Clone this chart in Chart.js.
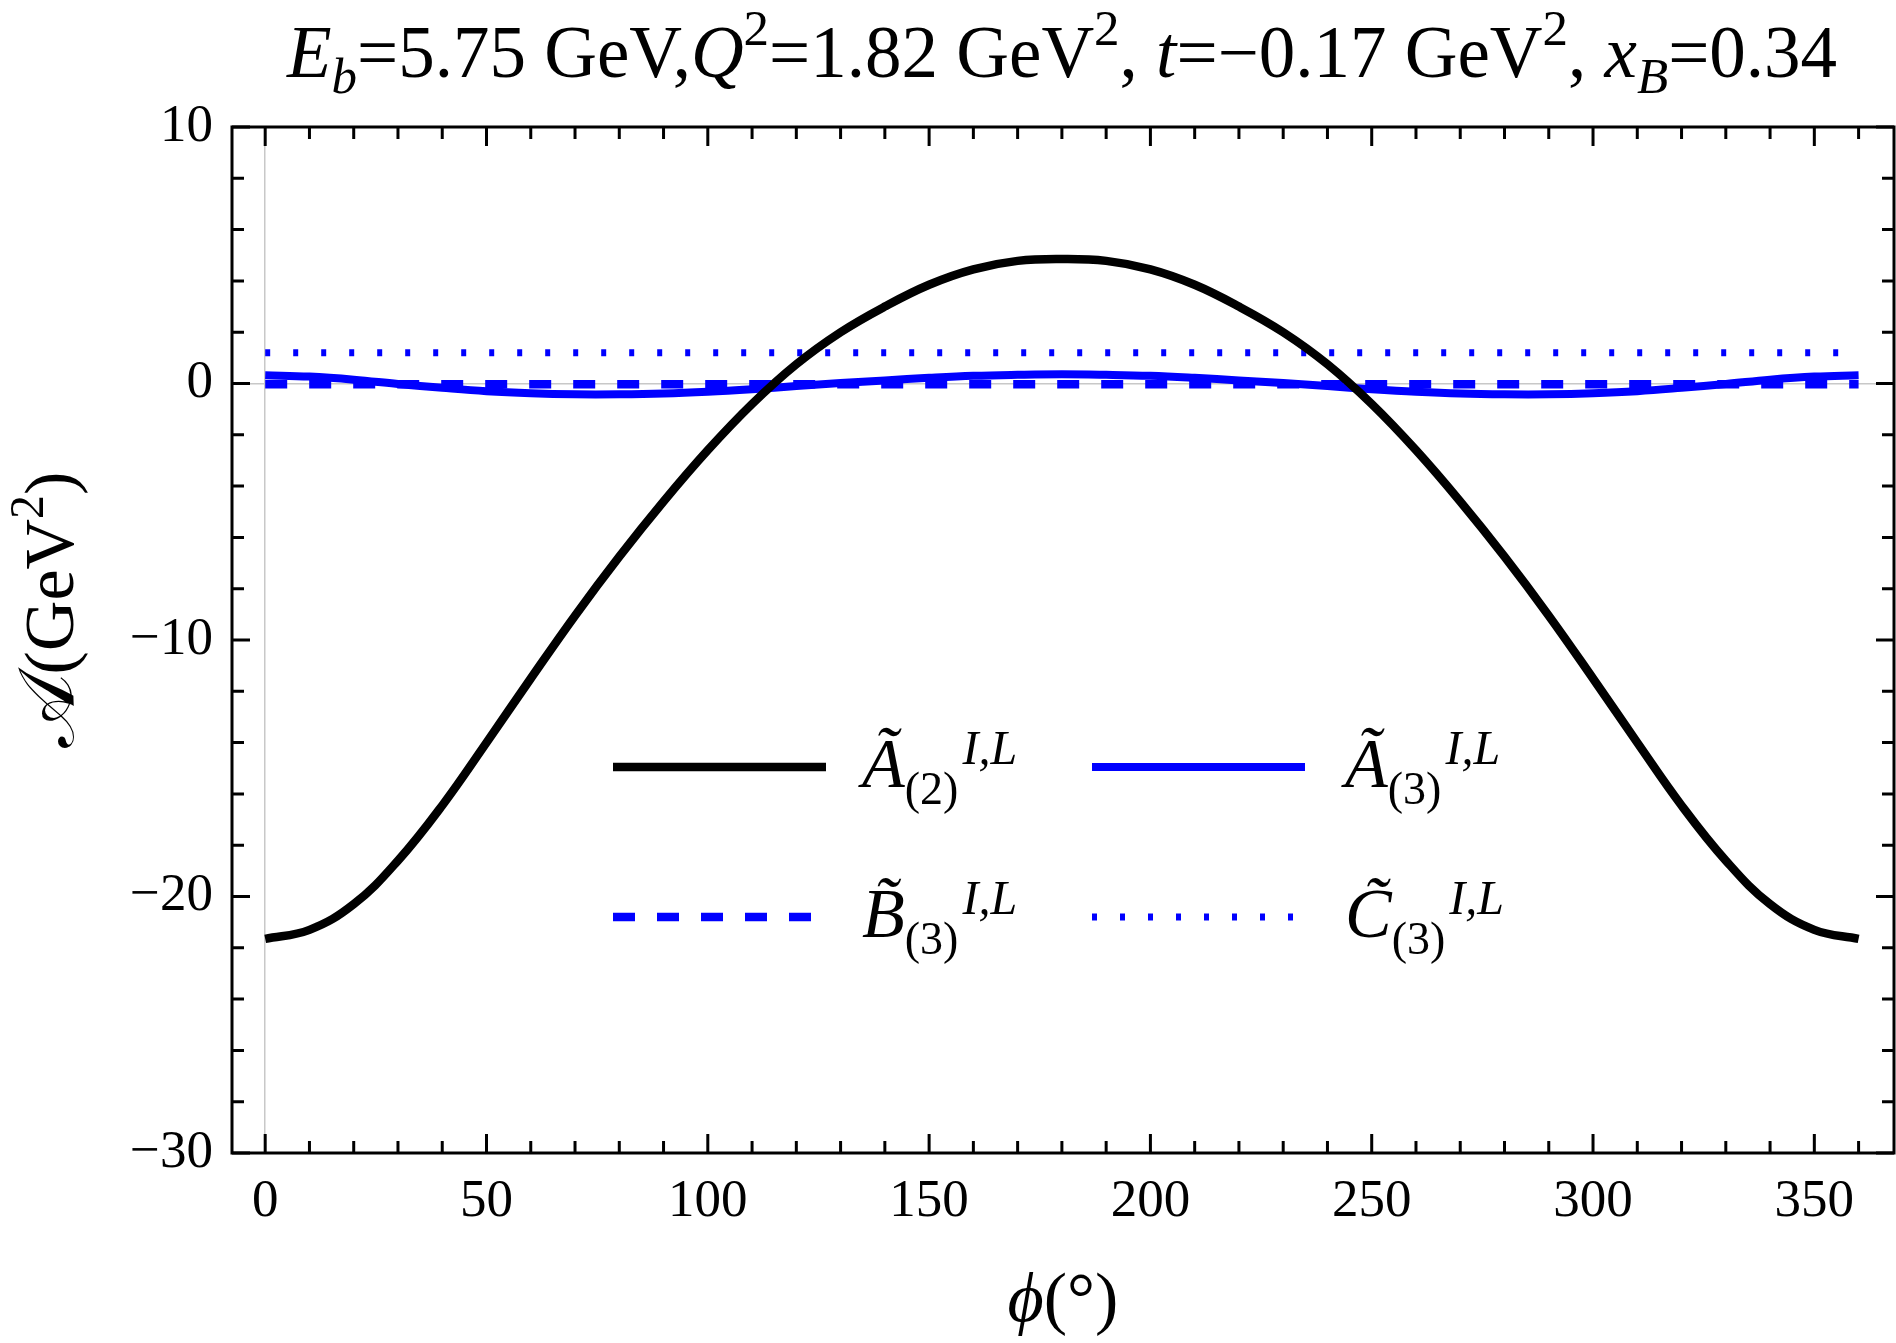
<!DOCTYPE html>
<html>
<head>
<meta charset="utf-8">
<script src="https://cdn.jsdelivr.net/npm/chart.js@4.4.1/dist/chart.umd.min.js"></script>
<style>
  html, body { margin: 0; padding: 0; background: #fff; }
  #wrap { width: 1896px; height: 1343px; }
</style>
</head>
<body>
<div id="wrap"><canvas id="plot"></canvas></div>
<script>
// phi in degrees, values in GeV^2
const phi = [0, 10, 20, 30, 40, 50, 60, 70, 80, 90, 100, 110, 120, 130, 140, 150, 160, 170, 180,
             190, 200, 210, 220, 230, 240, 250, 260, 270, 280, 290, 300, 310, 320, 330, 340, 350, 360];
const a2 = [-21.65, -21.3, -20.3, -18.6, -16.45, -14.0, -11.5, -9.05, -6.75, -4.6, -2.6, -0.8, 0.75, 2.0, 3.0, 3.85, 4.45, 4.78, 4.85,
            4.78, 4.45, 3.85, 3.0, 2.0, 0.75, -0.8, -2.6, -4.6, -6.75, -9.05, -11.5, -14.0, -16.45, -18.6, -20.3, -21.3, -21.65];
const a3 = [0.32, 0.27, 0.15, -0.02, -0.17, -0.30, -0.38, -0.42, -0.42, -0.39, -0.32, -0.22, -0.10, 0.02, 0.12, 0.22, 0.30, 0.34, 0.36,
            0.34, 0.30, 0.22, 0.12, 0.02, -0.10, -0.22, -0.32, -0.39, -0.42, -0.42, -0.38, -0.30, -0.17, -0.02, 0.15, 0.27, 0.32];
const b3 = [-0.03, -0.03, -0.03, -0.03, -0.03, -0.03, -0.03, -0.03, -0.03, -0.03, -0.03, -0.03, -0.03, -0.03, -0.03, -0.03, -0.03, -0.03, -0.03,
            -0.03, -0.03, -0.03, -0.03, -0.03, -0.03, -0.03, -0.03, -0.03, -0.03, -0.03, -0.03, -0.03, -0.03, -0.03, -0.03, -0.03, -0.03];
const c3 = [1.2, 1.2, 1.2, 1.2, 1.2, 1.2, 1.2, 1.2, 1.2, 1.2, 1.2, 1.2, 1.2, 1.2, 1.2, 1.2, 1.2, 1.2, 1.2,
            1.2, 1.2, 1.2, 1.2, 1.2, 1.2, 1.2, 1.2, 1.2, 1.2, 1.2, 1.2, 1.2, 1.2, 1.2, 1.2, 1.2, 1.2];
const xLabels = [0, 50, 100, 150, 200, 250, 300, 350];
const yLabels = [-30, -20, -10, 0, 10];

const SERIF = '"Liberation Serif", "DejaVu Serif", serif';
const fnt = (size, italic) => (italic ? 'italic ' : '') + size + 'px ' + SERIF;

function richWidth(ctx, parts) {
  let w = 0;
  parts.forEach(p => { ctx.font = p.font; w += ctx.measureText(p.t).width + (p.gap || 0); });
  return w;
}
function drawRich(ctx, parts, x, y, center) {
  let cx = center ? x - richWidth(ctx, parts) / 2 : x;
  ctx.textAlign = 'left';
  ctx.textBaseline = 'alphabetic';
  ctx.fillStyle = '#000';
  parts.forEach(p => {
    ctx.font = p.font;
    ctx.fillText(p.t, cx, y + (p.dy || 0));
    cx += ctx.measureText(p.t).width + (p.gap || 0);
  });
}

const pts = ys => phi.map((x, i) => ({ x: x, y: ys[i] }));

// title, axis titles, frame with inward ticks, legend
const decorations = {
  id: 'decorations',
  afterDatasetsDraw(chart) {
    const { ctx, chartArea: a, scales } = chart;
    ctx.save();

    // frame
    ctx.strokeStyle = '#000';
    ctx.lineWidth = 3;
    ctx.setLineDash([]);
    ctx.strokeRect(a.left, a.top, a.right - a.left, a.bottom - a.top);

    // ticks on all four sides
    ctx.beginPath();
    scales.x.ticks.forEach(t => {
      if (t.value < 0 || t.value > 360) return;
      const px = scales.x.getPixelForValue(t.value);
      const len = t.value % 50 === 0 ? 19 : 12;
      ctx.moveTo(px, a.bottom); ctx.lineTo(px, a.bottom - len);
      ctx.moveTo(px, a.top); ctx.lineTo(px, a.top + len);
    });
    scales.y.ticks.forEach(t => {
      const py = scales.y.getPixelForValue(t.value);
      const len = t.value % 10 === 0 ? 18 : 12;
      ctx.moveTo(a.left, py); ctx.lineTo(a.left + len, py);
      ctx.moveTo(a.right, py); ctx.lineTo(a.right - len, py);
    });
    ctx.stroke();

    // title
    const S = 73, s = 51;
    drawRich(ctx, [
      { t: 'E', font: fnt(S, true) },
      { t: 'b', font: fnt(s, true), dy: 16 },
      { t: '=5.75 GeV,', font: fnt(S) },
      { t: 'Q', font: fnt(S, true) },
      { t: '2', font: fnt(s), dy: -32 },
      { t: '=1.82 GeV', font: fnt(S) },
      { t: '2', font: fnt(s), dy: -32 },
      { t: ', ', font: fnt(S) },
      { t: 't', font: fnt(S, true) },
      { t: '=\u22120.17 GeV', font: fnt(S) },
      { t: '2', font: fnt(s), dy: -32 },
      { t: ', ', font: fnt(S) },
      { t: 'x', font: fnt(S, true) },
      { t: 'B', font: fnt(s, true), dy: 16 },
      { t: '=0.34', font: fnt(S) }
    ], 1062, 77, true);

    // x axis title
    drawRich(ctx, [
      { t: '\u03d5', font: fnt(70, true) },
      { t: '(\u00b0)', font: fnt(70) }
    ], (a.left + a.right) / 2, 1321, true);

    // y axis title
    ctx.save();
    ctx.translate(73, 610);
    ctx.rotate(-Math.PI / 2);
    drawRich(ctx, [
      { t: '\ud835\udc9c', font: fnt(78) },
      { t: '(GeV', font: fnt(70) },
      { t: '2', font: fnt(48), dy: -30 },
      { t: ')', font: fnt(70) }
    ], 0, 0, true);
    ctx.restore();

    // legend
    const lineX = [613, 1092], textX = [862, 1345], rowY = [767, 917];
    chart.data.datasets.forEach((ds, i) => {
      const r = Math.floor(i / 2), c = i % 2;
      ctx.strokeStyle = ds.borderColor;
      ctx.lineWidth = ds.borderWidth;
      ctx.lineCap = 'butt';
      ctx.setLineDash(ds.borderDash || []);
      ctx.beginPath();
      ctx.moveTo(lineX[c], rowY[r]);
      ctx.lineTo(lineX[c] + 213, rowY[r]);
      ctx.stroke();
      ctx.setLineDash([]);
      drawRich(ctx, [
        { t: ds.sym, font: fnt(70, true) },
        { t: ds.sub, font: fnt(46), dy: 17, gap: 4 },
        { t: ds.sup, font: fnt(48, true), dy: -23 }
      ], textX[c], rowY[r] + 20, false);
    });

    ctx.restore();
  }
};

const zeroGrid = c => (c.tick && c.tick.value === 0) ? '#c8c8c8' : 'rgba(0,0,0,0)';

new Chart(document.getElementById('plot'), {
  type: 'line',
  data: {
    datasets: [
      { label: '\u00c3(2) I,L', sym: '\u00c3', sub: '(2)', sup: 'I,L', data: pts(a2),
        borderColor: '#000000', borderWidth: 8.5, tension: 0.4 },
      { label: '\u00c3(3) I,L', sym: '\u00c3', sub: '(3)', sup: 'I,L', data: pts(a3),
        borderColor: '#0000ff', borderWidth: 8, tension: 0.4 },
      { label: 'B\u0303(3) I,L', sym: 'B\u0303', sub: '(3)', sup: 'I,L', data: pts(b3),
        borderColor: '#0000ff', borderWidth: 8.5, borderDash: [22, 22] },
      { label: 'C\u0303(3) I,L', sym: 'C\u0303', sub: '(3)', sup: 'I,L', data: pts(c3),
        borderColor: '#0000ff', borderWidth: 7, borderDash: [5, 23] }
    ]
  },
  options: {
    responsive: true,
    maintainAspectRatio: false,
    animation: false,
    devicePixelRatio: 1,
    layout: { padding: { top: 127, right: 2, left: 0, bottom: 0 } },
    elements: { point: { radius: 0 } },
    plugins: {
      legend: { display: false },
      tooltip: { enabled: false }
    },
    scales: {
      x: {
        type: 'linear',
        min: -7.5,
        max: 368,
        afterFit: s => { s.height = 190; },
        border: { display: false },
        grid: { color: zeroGrid, lineWidth: 1.5, drawTicks: false },
        ticks: {
          stepSize: 10,
          includeBounds: false,
          autoSkip: false,
          maxRotation: 0,
          padding: 17,
          color: '#000',
          font: { family: SERIF, size: 53 },
          callback: v => xLabels.includes(v) ? String(v) : ''
        }
      },
      y: {
        min: -30,
        max: 10,
        afterFit: s => { s.width = 232; },
        border: { display: false },
        grid: { color: zeroGrid, lineWidth: 1.5, drawTicks: false },
        ticks: {
          stepSize: 2,
          autoSkip: false,
          padding: 19,
          color: '#000',
          font: { family: SERIF, size: 53 },
          callback: v => yLabels.includes(v) ? (v < 0 ? '\u2212' + Math.abs(v) : String(v)) : ''
        }
      }
    }
  },
  plugins: [decorations]
});
</script>
</body>
</html>
